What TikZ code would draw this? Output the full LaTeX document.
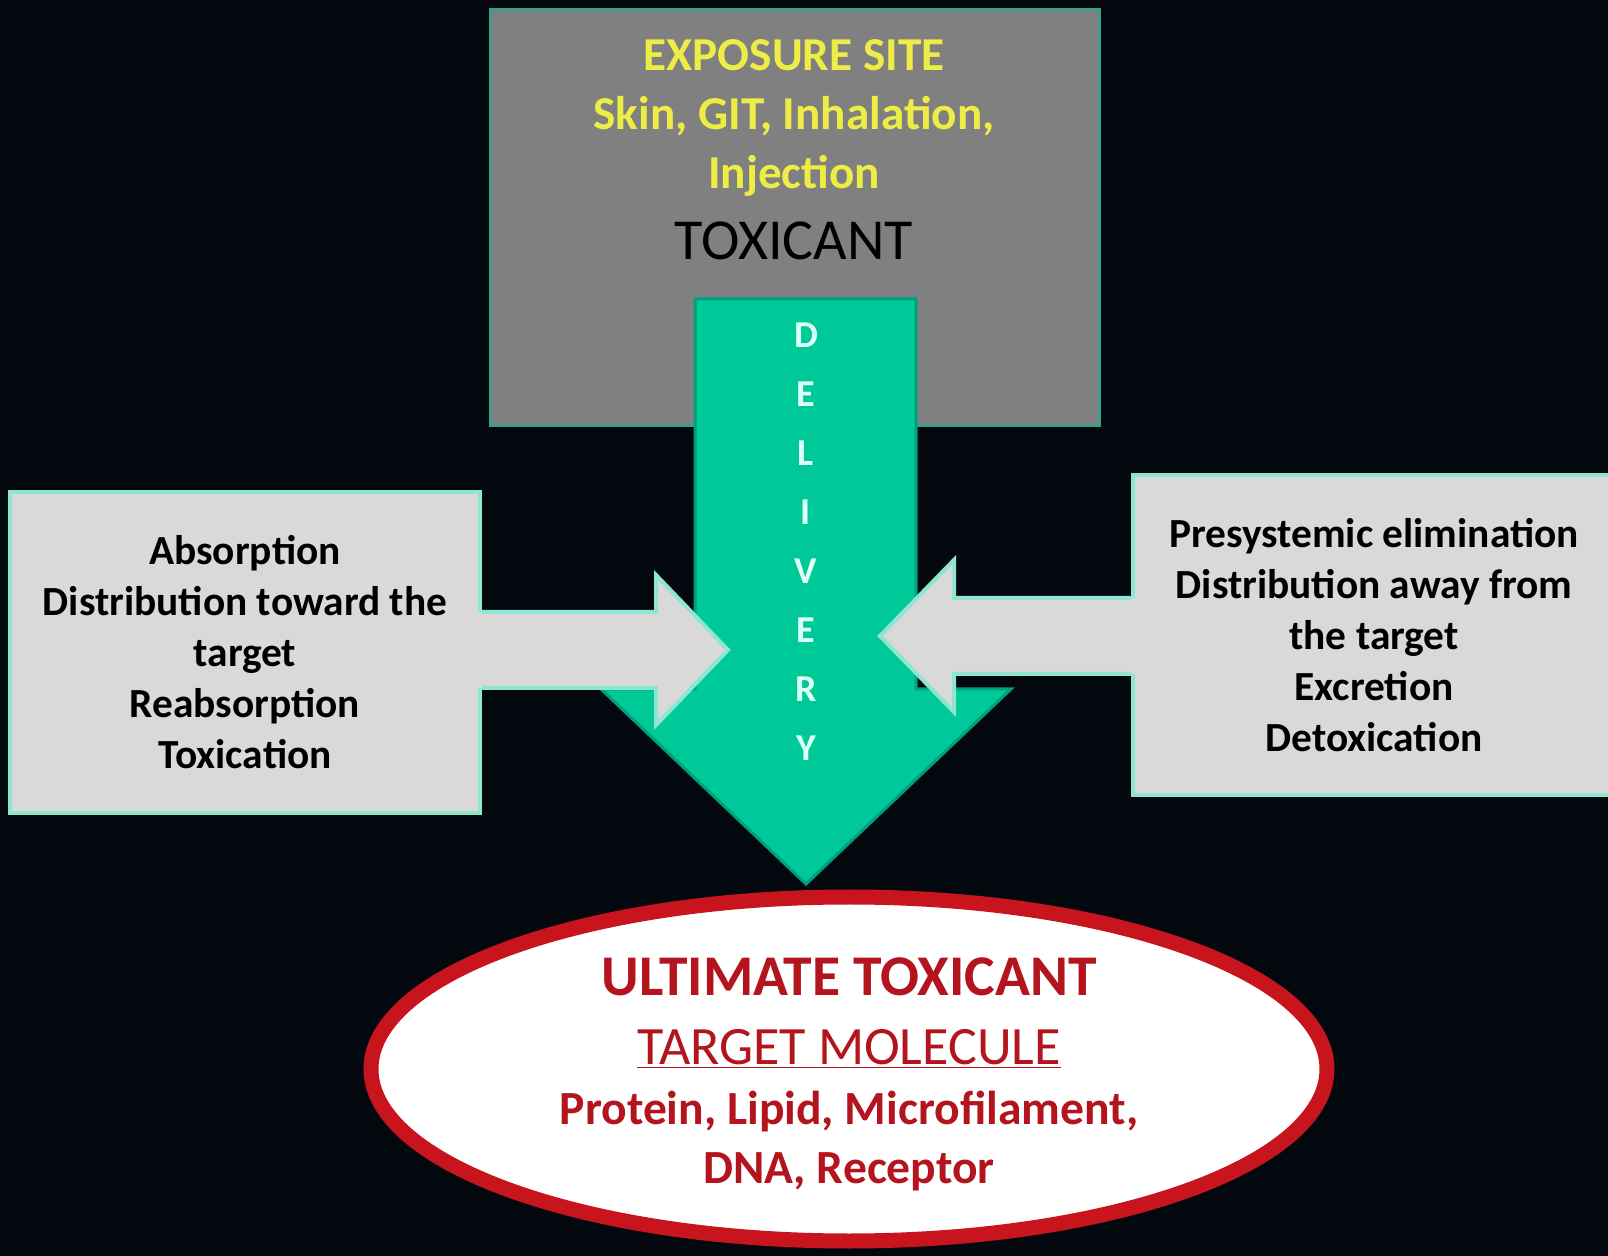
\documentclass[tikz,border=0pt]{standalone}
\usepackage{fontspec}
\setmainfont{Carlito}
\usetikzlibrary{positioning,arrows.meta,calc,shapes.geometric}
\definecolor{nightbg}{HTML}{03080F}
\definecolor{slate}{HTML}{808080}
\definecolor{tealedge}{HTML}{3C9E8A}
\definecolor{jade}{HTML}{00C999}
\definecolor{jadeedge}{HTML}{00A07C}
\definecolor{paleedge}{HTML}{8FE6CF}
\definecolor{pale}{HTML}{D9D9D9}
\definecolor{sulfur}{HTML}{EDED45}
\definecolor{crimson}{HTML}{C8141C}
\definecolor{wine}{HTML}{B3141E}
\definecolor{frost}{HTML}{DDFFF6}

\begin{document}
\begin{tikzpicture}[x=0.5pt,y=-0.5pt,
  sitebox/.style={draw=tealedge,line width=1.5pt,fill=slate,minimum width=304.5pt,minimum height=208pt,inner sep=0pt},
  sidebox/.style={draw=paleedge,line width=2pt,fill=pale,inner sep=0pt,align=center,
    font=\bfseries\fontsize{20.7}{25.5}\selectfont},
  sideedge/.style={draw=paleedge,line width=2pt},
  targetoval/.style={ellipse,draw=crimson,line width=7.5pt,fill=white,minimum width=478pt,minimum height=172pt,inner sep=0pt},
  redline/.style={text=wine,anchor=base}]
\useasboundingbox[fill=nightbg] (0,0) rectangle (1608,1256);

% exposure site
\node[sitebox] (site) at (794.5,218) {};
\node[text=sulfur,align=center,font=\bfseries\fontsize{23.6}{29.5}\selectfont] (route) at (794,118)
  {EXPOSURE SITE\\Skin, GIT, Inhalation,\\Injection};
\node[anchor=base,font=\fontsize{29}{34}\selectfont] (tox) at (794,260) {TOXICANT};

% delivery arrow
\filldraw[fill=jade,draw=jadeedge,line width=1.5pt] (695,299) -- (916,299) -- (916,689) -- (1011,689)
  -- (806,884) -- (601,689) -- (695,689) -- cycle;
\node[text=frost,align=center,font=\bfseries\fontsize{19}{29.5}\selectfont] (deliv) at (806,542)
  {D\\E\\L\\I\\V\\E\\R\\Y};

% side boxes
\node[sidebox,minimum width=235pt,minimum height=160.5pt] (lbox) at (245,652.5)
  {Absorption\\Distribution toward the\\target\\Reabsorption\\Toxication};
\node[sidebox,minimum width=241pt,minimum height=160pt] (rbox) at (1374,635)
  {Presystemic elimination\\Distribution away from\\the target\\Excretion\\Detoxication};

% side arrows
\fill[pale] (474,612) -- (656,612) -- (656,575) -- (728,650) -- (656,725) -- (656,688) -- (474,688) -- cycle;
\draw[sideedge] (lbox.east |- 0,612) -- (656,612) -- (656,575) -- (728,650) -- (656,725) -- (656,688) -- (lbox.east |- 0,688);
\fill[pale] (1139,598) -- (954,598) -- (954,560) -- (880,636) -- (954,712) -- (954,674) -- (1139,674) -- cycle;
\draw[sideedge] (rbox.west |- 0,598) -- (954,598) -- (954,560) -- (880,636) -- (954,712) -- (954,674) -- (rbox.west |- 0,674);

% target
\node[targetoval] (tgt) at (849,1069) {};
\node[redline,font=\bfseries\fontsize{28.8}{32}\selectfont] (ult) at (849,995) {ULTIMATE TOXICANT};
\node[redline,font=\fontsize{27}{32}\selectfont] (mol) at (849,1064) {\underline{TARGET MOLECULE}};
\node[redline,font=\bfseries\fontsize{23.8}{26}\selectfont] (kind) at (849,1124) {Protein, Lipid, Microfilament,};
\node[redline,font=\bfseries\fontsize{23.8}{26}\selectfont] (dna) at (849,1183) {DNA, Receptor};
\end{tikzpicture}
\end{document}
